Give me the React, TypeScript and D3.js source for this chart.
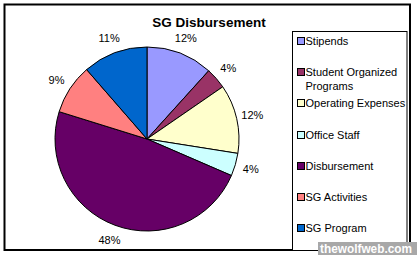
import React from "react";
import * as d3 from "d3";

const categories = [
  "Stipends",
  "Student Organized Programs",
  "Operating Expenses",
  "Office Staff",
  "Disbursement",
  "SG Activities",
  "SG Program",
];
const values = [11.7, 3.7, 12.1, 4.0, 48.3, 8.8, 11.4];
const colors = ["#9999FF", "#993366", "#FFFFCC", "#CCFFFF", "#660066", "#FF8080", "#0066CC"];
const legendLines = [["Stipends"], ["Student Organized", "Programs"], ["Operating Expenses"], ["Office Staff"], ["Disbursement"], ["SG Activities"], ["SG Program"]];
const title = "SG Disbursement";

const W = 417;
const H = 255;
const cx = 147;
const cy = 139;
const R = 92;
const font = "Arial, 'Liberation Sans', sans-serif";

export default function App() {
  const total = d3.sum(values);
  const pie = d3.pie<number>().sort(null).value((d) => d)(values);
  const arc = d3.arc<d3.PieArcDatum<number>>().innerRadius(0).outerRadius(R);
  const labelArc = d3.arc<d3.PieArcDatum<number>>().innerRadius(108).outerRadius(108);
  const legendY = [41, 72, 103, 135, 166, 197, 228];
  return (
    <svg width={W} height={H} style={{ position: "absolute", left: 0, top: 0, background: "#fff" }} fontFamily={font}>
      <rect x={0} y={0} width={W} height={H} fill="#fff" />
      <rect x={4.5} y={4.5} width={405.5} height={245.5} fill="none" stroke="#000" strokeWidth={2} />
      <text x={209} y={27} textAnchor="middle" fontSize={13.5} fontWeight="bold">{title}</text>
      <g transform={`translate(${cx},${cy})`}>
        {pie.map((p, i) => (
          <path key={categories[i]} d={arc(p) || ""} fill={colors[i]} stroke="#000" strokeWidth={1} />
        ))}
        {pie.map((p, i) => {
          const [x, y] = labelArc.centroid(p);
          return (
            <text key={"l" + i} x={x} y={y} textAnchor="middle" dominantBaseline="central" fontSize={11}>
              {Math.round((values[i] / total) * 100)}%
            </text>
          );
        })}
      </g>
      <rect x={292.5} y={31.5} width={114.5} height={219} fill="#fff" stroke="#000" strokeWidth={1} />
      {categories.map((c, i) => (
        <g key={"lg" + i}>
          <rect x={297.5} y={legendY[i] - 3.5} width={7} height={7} fill={colors[i]} stroke="#000" strokeWidth={1} />
          {legendLines[i].map((t, j) => (
            <text key={j} x={305.5} y={legendY[i] + j * 14} dominantBaseline="central" fontSize={11}>{t}</text>
          ))}
        </g>
      ))}
      <rect x={318} y={242} width={99} height={13} fill="#a8a8a8" />
      <text x={320} y={249} dominantBaseline="central" fontSize={12} fontWeight="bold" fill="#fff" textLength={92} lengthAdjust="spacingAndGlyphs">thewolfweb.com</text>
    </svg>
  );
}
